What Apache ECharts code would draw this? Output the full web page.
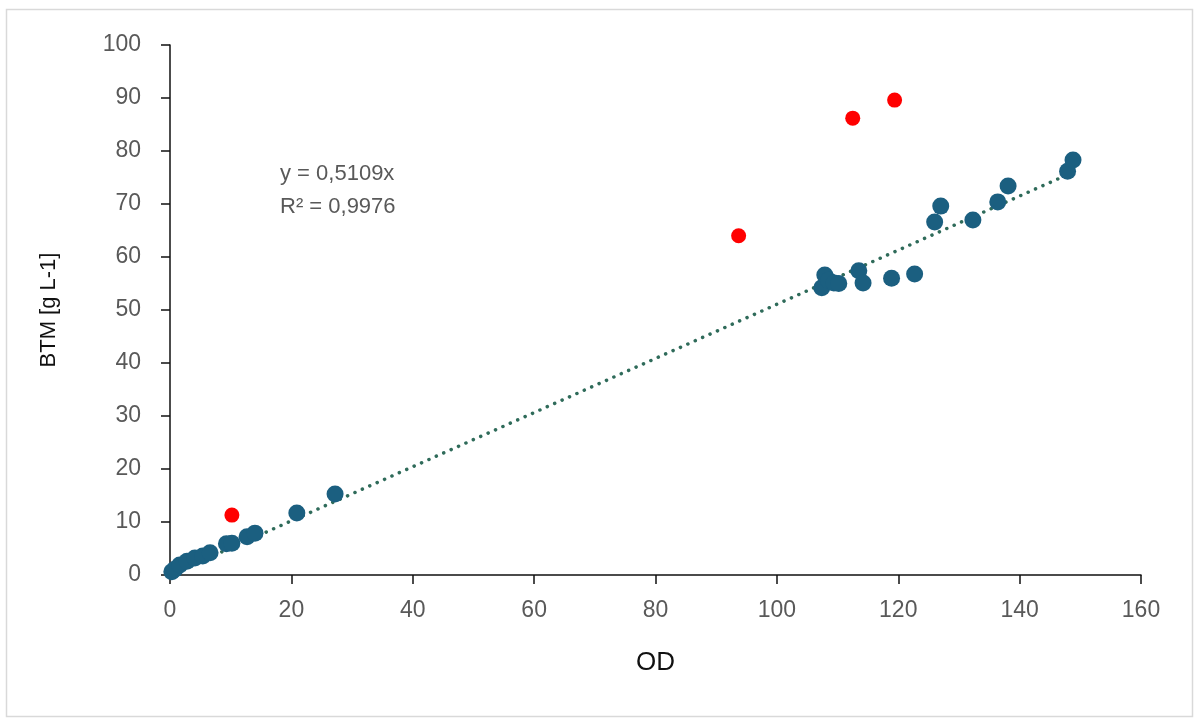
<!DOCTYPE html>
<html>
<head>
<meta charset="utf-8">
<script src="https://cdn.jsdelivr.net/npm/echarts@6/dist/echarts.min.js"></script>
<style>
html,body{margin:0;padding:0;background:#fff;}
#chart{width:1197px;height:720px;}
</style>
</head>
<body>
<div id="chart"></div>
<script>
// Blue (regular) measurements: [OD, BTM]
const blueOD  = [0.3,0.8,1.6,2.8,4.1,5.4,6.6,9.3,10.2,12.7,14.0,20.9,27.2,107.4,107.9,108.5,109.4,110.2,113.5,114.2,118.9,122.7,126.0,127.0,132.3,136.4,138.1,147.9,148.8];
const blueBTM = [0.6,1.1,1.9,2.6,3.2,3.6,4.2,5.9,6.0,7.2,7.9,11.7,15.3,54.2,56.6,55.6,55.1,55.0,57.4,55.1,56.0,56.8,66.6,69.6,67.0,70.4,73.4,76.2,78.3];
// Red (outlier) measurements
const redOD  = [10.2,93.7,112.5,119.4];
const redBTM = [11.3,64.0,86.2,89.6];
// Linear trendline (through origin) endpoints
const trendOD  = [0,149];
const trendBTM = [0,76.1];
const xTicks = [0,20,40,60,80,100,120,140,160];
const yTicks = [0,10,20,30,40,50,60,70,80,90,100];
const eqText = 'y = 0,5109x';
const r2Text = 'R\u00B2 = 0,9976';

const zip = (a,b) => a.map((v,i)=>[v,b[i]]);
const chart = echarts.init(document.getElementById('chart'));
const font = "'Liberation Sans',sans-serif";
chart.setOption({
  animation:false,
  backgroundColor:'#fff',
  grid:{left:170,right:56,top:45,bottom:145,containLabel:false},
  xAxis:{
    type:'value',min:xTicks[0],max:xTicks[xTicks.length-1],interval:20,
    name:'OD',nameLocation:'middle',nameGap:75,
    nameTextStyle:{color:'#111',fontSize:26,fontFamily:font},
    axisLine:{lineStyle:{color:'#111',width:1.5}},
    axisTick:{show:true,length:9,lineStyle:{color:'#111',width:1.5}},
    axisLabel:{color:'#595959',fontSize:23,margin:24,fontFamily:font},
    splitLine:{show:false}
  },
  yAxis:{
    type:'value',min:yTicks[0],max:yTicks[yTicks.length-1],interval:10,
    name:'BTM [g L-1]',nameLocation:'middle',nameGap:110,nameRotate:90,
    nameTextStyle:{color:'#111',fontSize:22,fontFamily:font},
    axisLine:{show:true,lineStyle:{color:'#111',width:1.5}},
    axisTick:{show:true,length:9,lineStyle:{color:'#111',width:1.5}},
    axisLabel:{color:'#595959',fontSize:23,margin:29,fontFamily:font},
    splitLine:{show:false}
  },
  series:[
    {type:'line',data:zip(trendOD,trendBTM),symbol:'none',z:1,
     lineStyle:{color:'#2f6b5a',width:3.5,type:[0.1,8],cap:'round'}},
    {type:'scatter',data:zip(blueOD,blueBTM),symbolSize:17,z:3,
     itemStyle:{color:'#1b5f80',opacity:1}},
    {type:'scatter',data:zip(redOD,redBTM),symbolSize:15,z:4,
     itemStyle:{color:'#ff0000',opacity:1}}
  ],
  graphic:[
    {type:'rect',left:4,top:7,shape:{width:1186,height:707},style:{fill:'none',stroke:'#d9d9d9',lineWidth:1.5},z:-1},
    {type:'text',left:280,top:163,style:{text:eqText,fill:'#595959',font:"22px 'Liberation Sans',sans-serif"}},
    {type:'text',left:280,top:196,style:{text:r2Text,fill:'#595959',font:"22px 'Liberation Sans',sans-serif"}}
  ]
});
</script>
</body>
</html>
